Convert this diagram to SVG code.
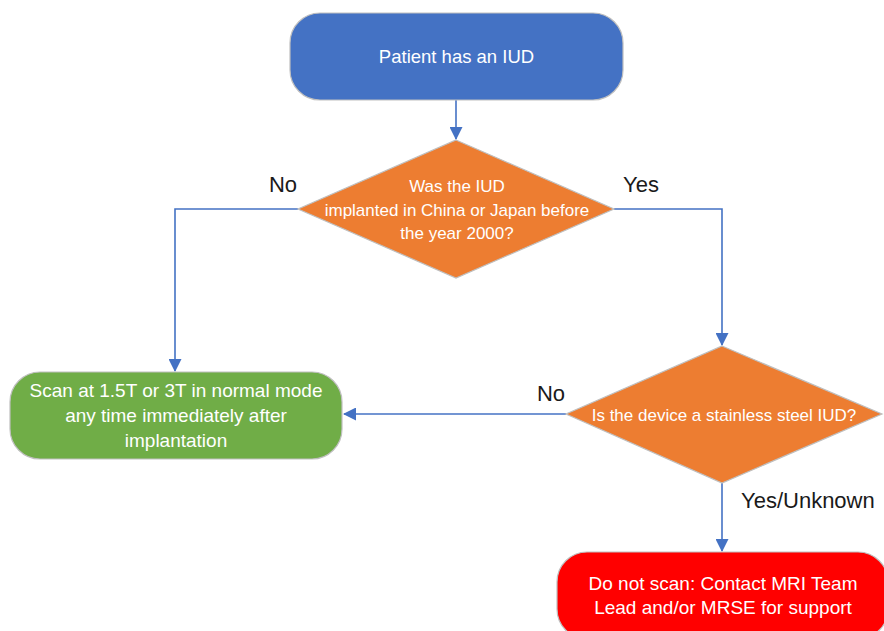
<svg xmlns="http://www.w3.org/2000/svg" width="884" height="631" viewBox="0 0 884 631">
<style>
.node{stroke:#BFBFBF;stroke-width:1.2}
.t{font-family:"Liberation Sans",Arial,sans-serif;fill:#FFFFFF;text-anchor:middle}
.lbl{font-family:"Liberation Sans",Arial,sans-serif;fill:#1A1A1A;font-size:22px}
.c{fill:none;stroke:#4472C4;stroke-width:1.6}
</style>
<defs>
<marker id="ah" markerWidth="13" markerHeight="13" refX="12" refY="6.5" orient="auto" markerUnits="userSpaceOnUse" viewBox="0 0 13 13">
<path d="M0,0 L13,6.5 L0,13 z" fill="#4472C4"/>
</marker>
</defs>
<rect width="884" height="631" fill="#FFFFFF"/>
<g id="connectors">
<path class="c" d="M456,100 V139" marker-end="url(#ah)"/>
<path class="c" d="M298,209 H175 V371" marker-end="url(#ah)"/>
<path class="c" d="M614,209 H722 V345" marker-end="url(#ah)"/>
<path class="c" d="M566,414 H344" marker-end="url(#ah)"/>
<path class="c" d="M722,483 V551" marker-end="url(#ah)"/>
</g>
<g id="labels">
<text class="lbl" x="283" y="192" text-anchor="middle">No</text>
<text class="lbl" x="641" y="192" text-anchor="middle">Yes</text>
<text class="lbl" x="551" y="401" text-anchor="middle">No</text>
<text class="lbl" x="741" y="508">Yes/Unknown</text>
</g>
<g id="start">
<rect class="node" x="290" y="13" width="333" height="87" rx="30" fill="#4472C4"/>
<text class="t" x="456.5" y="63" font-size="18.5">Patient has an IUD</text>
</g>
<g id="decision1">
<polygon class="node" points="456,140 614,209 456,278 298,209" fill="#ED7D31"/>
<text class="t" font-size="17"><tspan x="457" y="192">Was the IUD</tspan><tspan x="457" y="216">implanted in China or Japan before</tspan><tspan x="457" y="239">the year 2000?</tspan></text>
</g>
<g id="scan">
<rect class="node" x="10" y="372" width="332" height="87" rx="30" fill="#70AD47"/>
<text class="t" font-size="19"><tspan x="176" y="397">Scan at 1.5T or 3T in normal mode</tspan><tspan x="176" y="422">any time immediately after</tspan><tspan x="176" y="447">implantation</tspan></text>
</g>
<g id="decision2">
<polygon class="node" points="722,346 882,414 722,483 566,414" fill="#ED7D31"/>
<text class="t" x="724" y="421" font-size="17">Is the device a stainless steel IUD?</text>
</g>
<g id="donotscan">
<rect class="node" x="557" y="552" width="331" height="87" rx="30" fill="#FF0000"/>
<text class="t" font-size="19"><tspan x="723" y="590">Do not scan: Contact MRI Team</tspan><tspan x="723" y="614">Lead and/or MRSE for support</tspan></text>
</g>
</svg>
